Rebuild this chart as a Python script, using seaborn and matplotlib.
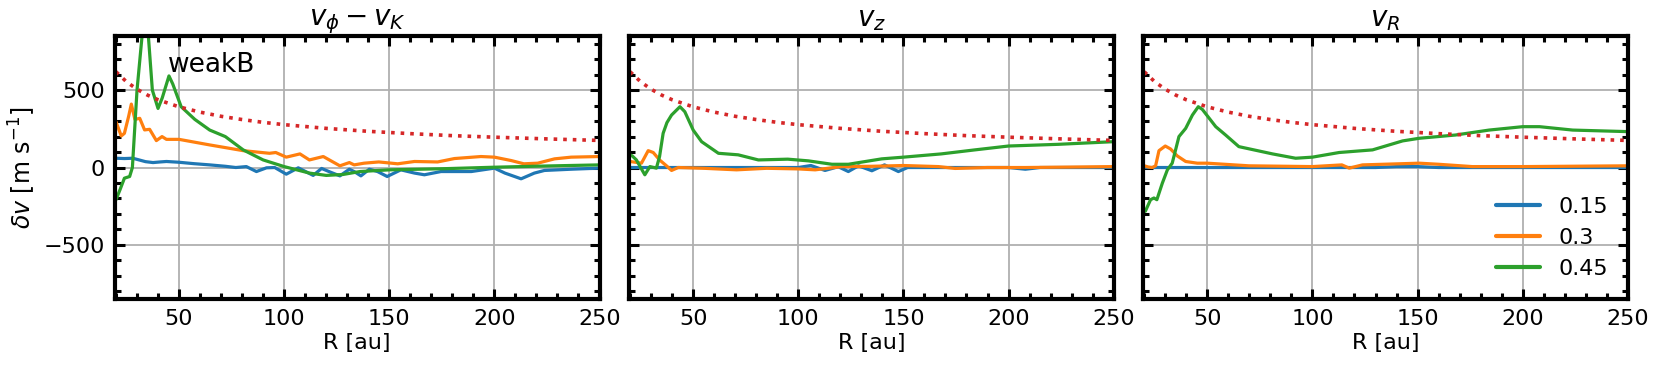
import numpy as np
import pandas as pd
import seaborn as sns
import matplotlib.pyplot as plt
from matplotlib.ticker import MultipleLocator

# --- data ---
labels = ['0.15', '0.3', '0.45']
panel_titles = [r'$v_\phi - v_K$', r'$v_z$', r'$v_R$']

# reference curve (red dotted), same in each panel
model_R = [20, 25, 30, 35, 40, 50, 60, 70, 80, 90, 100, 120, 140, 160, 180, 200, 225, 250]
model_v = [619, 554, 506, 468, 438, 392, 358, 331, 310, 292, 277, 253, 234, 219, 206, 196, 185, 175]

# v_phi - v_K
vphi_R_015 = [20, 24, 28, 31, 34, 37.6, 41, 44, 50, 57, 64.6, 72, 77, 82, 86.8, 91.6, 95.5, 101, 106.7,
              113.8, 117.8, 122, 126.5, 131, 133.3, 136.5, 140.5, 144.4, 149, 155.5, 162, 166.7, 174.6,
              189, 200, 205, 212.7, 219, 223.8, 236.5, 250]
vphi_v_015 = [60, 58, 60, 49, 38, 32, 36, 39, 34, 25, 17, 8, 0, 6, -26, -2, 0, -43, -2,
              -51, -6, -30, -54, -11, -26, -54, -11, -26, -58, -15, -36, -47, -26,
              -26, -4, -36, -73, -36, -19, -11, -4]
vphi_R_03 = [20, 22.5, 24, 26, 27.3, 29, 31.3, 33.6, 36, 39.2, 41.9, 44, 50, 64.6, 80.5, 93, 96, 101,
             107.5, 112, 118.6, 126.5, 131, 133.3, 138, 145, 154, 162, 173, 181, 193.6, 200, 208, 214,
             220.6, 228.6, 236.5, 250]
vphi_v_03 = [296, 204, 221, 330, 410, 311, 318, 243, 247, 174, 200, 182, 182, 146, 109, 92, 97, 67,
             88, 49, 71, 11, 32, 17, 28, 36, 24, 39, 36, 58, 71, 67, 45, 24,
             28, 56, 67, 71]
vphi_R_045 = [20, 21.9, 24, 26.5, 27.8, 30, 32.4, 33.9, 35.4, 37.3, 40, 42, 45.2, 47, 51, 57.5, 64.6,
              72, 80.5, 90, 100, 106, 112, 120, 128, 136, 150, 175, 200, 225, 250]
vphi_v_045 = [-208, -144, -69, -58, 0, 500, 850, 1100, 850, 500, 382, 450, 592, 540, 393, 311, 242,
              200, 114, 49, 6, -15, -36, -51, -45, -26, -15, -8, 2, 10, 17]

# v_z
vz_R_015 = [20, 100, 106, 112.7, 119, 123.8, 128.6, 135, 141, 147.6, 152, 160, 200, 208, 215, 250]
vz_v_015 = [0, 0, 13, -19, 5, -26, 11, -21, 17, -26, 0, 0, 0, -11, 0, 0]
vz_R_03 = [20, 25.4, 28.6, 31, 34, 37.3, 39.7, 42.9, 55, 70.6, 85, 100, 108, 120.6, 135, 150,
           166.7, 174.6, 190, 208, 230, 250]
vz_v_03 = [39, 28, 109, 97, 49, 11, -19, 0, -5, -15, -5, -9, -15, 6, 8, 13,
           6, -6, 0, 0, 3, 6]
vz_R_045 = [20, 21, 23, 25, 27, 29.4, 32.5, 34, 35.7, 37.5, 39.7, 43.7, 46, 50, 54, 62, 71.4, 81,
            95, 104.8, 116, 123.8, 139.7, 150, 168, 184, 200, 223.8, 250]
vz_v_045 = [82, 75, 49, 0, -47, 6, -4, 71, 221, 290, 339, 393, 361, 242, 167, 92, 82, 49,
            54, 43, 21, 21, 56, 67, 88, 114, 139, 150, 167]

# v_R
vr_R_015 = [20, 130, 140, 150, 160, 250]
vr_v_015 = [0, 0, 6, 6, 0, 0]
vr_R_03 = [20, 22, 23.8, 25.4, 27, 30, 32.5, 35.7, 39.7, 45.2, 50, 69.8, 100, 114, 117.5, 123.8,
           150.8, 160, 176, 200, 250]
vr_v_03 = [11, 3, 0, 11, 109, 139, 120, 75, 39, 28, 28, 11, 6, 17, -4, 17,
           28, 21, 6, 6, 11]
vr_R_045 = [20.5, 23, 24.6, 26, 28.6, 31, 33.3, 36.5, 39.7, 42.9, 45.7, 47.6, 54, 58.7, 65, 81, 92,
            100, 112.7, 128.6, 142.9, 150.8, 168, 184, 200, 208, 223.8, 250]
vr_v_045 = [-283, -208, -197, -208, -101, -15, 28, 200, 253, 339, 393, 376, 264, 210, 135, 88, 60,
            67, 97, 114, 172, 189, 210, 242, 264, 264, 242, 232]

panels = [
    [(vphi_R_015, vphi_v_015), (vphi_R_03, vphi_v_03), (vphi_R_045, vphi_v_045)],
    [(vz_R_015, vz_v_015), (vz_R_03, vz_v_03), (vz_R_045, vz_v_045)],
    [(vr_R_015, vr_v_015), (vr_R_03, vr_v_03), (vr_R_045, vr_v_045)],
]

rows = []
for p, series in enumerate(panels):
    for lab, (R, v) in zip(labels, series):
        for r, dv in zip(R, v):
            rows.append((p, lab, r, dv))
df = pd.DataFrame(rows, columns=['panel', 'H', 'R', 'dv'])

# --- style ---
sns.set_style('white')
plt.rcParams['font.family'] = ['DejaVu Sans']
plt.rcParams['mathtext.fontset'] = 'dejavusans'
for k in ['text.color', 'axes.labelcolor', 'xtick.color', 'ytick.color']:
    plt.rcParams[k] = 'black'

palette = {'0.15': '#1f77b4', '0.3': '#ff7f0e', '0.45': '#2ca02c'}

fig, axes = plt.subplots(1, 3, figsize=(16.61, 3.66), dpi=100, sharey=True)
fig.subplots_adjust(left=0.0692, right=0.980, bottom=0.183, top=0.9016, wspace=0.061)

for p, ax in enumerate(axes):
    sub = df[df['panel'] == p]
    sns.lineplot(data=sub, x='R', y='dv', hue='H', palette=palette, hue_order=labels,
                 estimator=None, sort=False, linewidth=2.3, ax=ax, legend=(p == 2))
    sns.lineplot(x=model_R, y=model_v, color='#d62728', linestyle=':', linewidth=2.6, ax=ax)

    ax.set_xlim(19.5, 250)
    ax.set_ylim(-850, 850)
    ax.xaxis.set_major_locator(MultipleLocator(50))
    ax.xaxis.set_minor_locator(MultipleLocator(10))
    ax.yaxis.set_major_locator(MultipleLocator(500))
    ax.yaxis.set_minor_locator(MultipleLocator(100))
    ax.grid(True, which='major', color='#b0b0b0', linewidth=1.3)
    ax.set_axisbelow(True)
    ax.tick_params(which='both', direction='in', top=True, right=True, bottom=True, left=True,
                   labelsize=16, colors='black')
    ax.tick_params(which='major', length=7, width=2.2, pad=7)
    ax.tick_params(which='minor', length=4, width=2.2)
    for s in ax.spines.values():
        s.set_linewidth(3)
        s.set_color('black')
    ax.set_title(panel_titles[p], fontsize=20, pad=7)
    ax.set_xlabel('R [au]', fontsize=16, labelpad=3)
    ax.set_ylabel('')

axes[0].set_ylabel(r'$\delta v$ [m s$^{-1}$]', fontsize=17)
axes[0].text(0.11, 0.865, 'weakB', transform=axes[0].transAxes, fontsize=19)

leg = axes[2].legend(loc='lower right', frameon=False, fontsize=16, handlelength=2.0)
for line in leg.get_lines():
    line.set_linewidth(3)

plt.savefig('out.png', dpi=100)
plt.close()
